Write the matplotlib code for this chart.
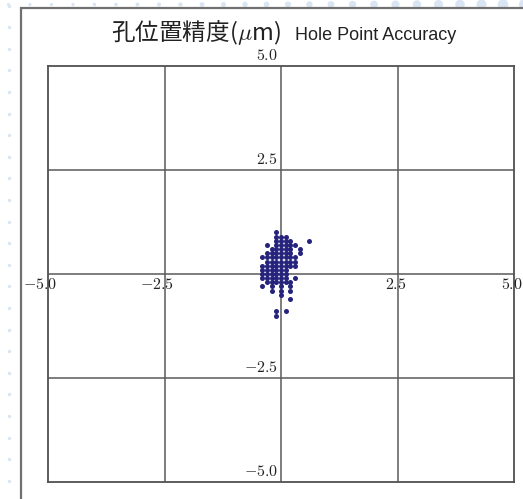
import numpy as np
import matplotlib
matplotlib.use("Agg")
import matplotlib.pyplot as plt
from matplotlib.patches import Rectangle

plt.rcParams["mathtext.fontset"] = "cm"

# Measured hole position deviations (micrometres)
dev_x = [
    -0.1,
    -0.1, 0.0, 0.1,
    -0.1, 0.0, 0.1, 0.2, 0.6,
    -0.3, -0.1, 0.0, 0.1, 0.2, 0.3,
    -0.2, -0.1, 0.0, 0.1, 0.2, 0.4,
    -0.3, -0.2, -0.1, 0.0, 0.1, 0.2, 0.4,
    -0.4, -0.3, -0.2, -0.1, 0.0, 0.1, 0.2, 0.3,
    -0.3, -0.2, -0.1, 0.0, 0.1, 0.2, 0.3,
    -0.4, -0.3, -0.2, -0.1, 0.0, 0.1, 0.2, 0.3,
    -0.4, -0.3, -0.2, -0.1, 0.0, 0.1,
    -0.4, -0.3, -0.2, -0.1, 0.0, 0.1,
    -0.4, -0.3, -0.2, -0.1, 0.0, 0.1, 0.3,
    -0.3, -0.2, -0.1, 0.0, 0.1, 0.2,
    -0.4, -0.2, 0.0, 0.2,
    -0.2, 0.0, 0.2,
    0.0,
    0.2,
    -0.1, 0.1,
    -0.1,
]
dev_y = [
    1.0,
    0.9, 0.9, 0.9,
    0.8, 0.8, 0.8, 0.8, 0.8,
    0.7, 0.7, 0.7, 0.7, 0.7, 0.7,
    0.6, 0.6, 0.6, 0.6, 0.6, 0.6,
    0.5, 0.5, 0.5, 0.5, 0.5, 0.5, 0.5,
    0.4, 0.4, 0.4, 0.4, 0.4, 0.4, 0.4, 0.4,
    0.3, 0.3, 0.3, 0.3, 0.3, 0.3, 0.3,
    0.2, 0.2, 0.2, 0.2, 0.2, 0.2, 0.2, 0.2,
    0.1, 0.1, 0.1, 0.1, 0.1, 0.1,
    0.0, 0.0, 0.0, 0.0, 0.0, 0.0,
    -0.1, -0.1, -0.1, -0.1, -0.1, -0.1, -0.1,
    -0.2, -0.2, -0.2, -0.2, -0.2, -0.2,
    -0.3, -0.3, -0.3, -0.3,
    -0.4, -0.4, -0.4,
    -0.5,
    -0.6,
    -0.9, -0.9,
    -1.0,
]

grid_values = [-2.5, 0.0, 2.5]
x_tick_values = [-5.0, -2.5, 2.5, 5.0]
y_tick_values = [5.0, 2.5, -2.5, -5.0]
axis_limit = 5.0

title_cn = "孔位置精度($\\mu$m)"
title_en = "Hole Point Accuracy"

W, H = 523, 499
fig = plt.figure(figsize=(W / 100, H / 100), dpi=100)

# Decorative backdrop in pixel coordinates
bg = fig.add_axes([0, 0, 1, 1])
bg.set_xlim(0, W)
bg.set_ylim(H, 0)
bg.axis("off")

dot_color = "#d9e5f2"
col_y = np.arange(5.5, H, 21.6)
bg.scatter(np.full_like(col_y, 8.5), col_y, s=(3.4 * 0.72) ** 2,
           color=dot_color, lw=0, zorder=1)
row_x = np.arange(8.5, W + 10, 21.5)
row_d = 3.0 + 8.0 * (row_x / W) ** 1.6
bg.scatter(row_x, np.full_like(row_x, 4.5), s=(row_d * 0.72) ** 2,
           color=dot_color, lw=0, zorder=1)

bg.add_patch(Rectangle((21, 8), 700, 700, facecolor="white",
                       edgecolor="#707070", lw=1.6, zorder=2))

bg.text(281, 40, title_cn, family=["Noto Sans CJK JP", "DejaVu Sans"],
        fontsize=17, ha="right", va="baseline", color="#222222", zorder=3)
bg.text(295, 40, title_en, family=["Liberation Sans", "DejaVu Sans"],
        fontsize=13, ha="left", va="baseline", color="#222222", zorder=3)

# Main plot area
ax = fig.add_axes([48 / W, 17 / H, 466 / W, 416 / H])
ax.set_xlim(-axis_limit, axis_limit)
ax.set_ylim(-axis_limit, axis_limit)
ax.set_xticks([])
ax.set_yticks([])
ax.patch.set_alpha(0)
for sp in ax.spines.values():
    sp.set_color("#505050")
    sp.set_linewidth(1.3)

line_kw = dict(color="#5a5a5a", lw=1.1, zorder=1)
for g in grid_values:
    ax.axvline(g, **line_kw)
    ax.axhline(g, **line_kw)

ax.scatter(dev_x, dev_y, s=13, color="#25237c", lw=0, zorder=3)

label_kw = dict(fontsize=11.5, color="#222222", annotation_clip=False,
                textcoords="offset pixels")
for v in x_tick_values:
    ax.annotate(f"${v:.1f}$", xy=(v, 0), xytext=(9, -3),
                ha="right", va="top", **label_kw)
for v in y_tick_values:
    ax.annotate(f"${v:.1f}$", xy=(0, v), xytext=(-3, 3),
                ha="right", va="bottom", **label_kw)

fig.savefig("out.png", dpi=100)
